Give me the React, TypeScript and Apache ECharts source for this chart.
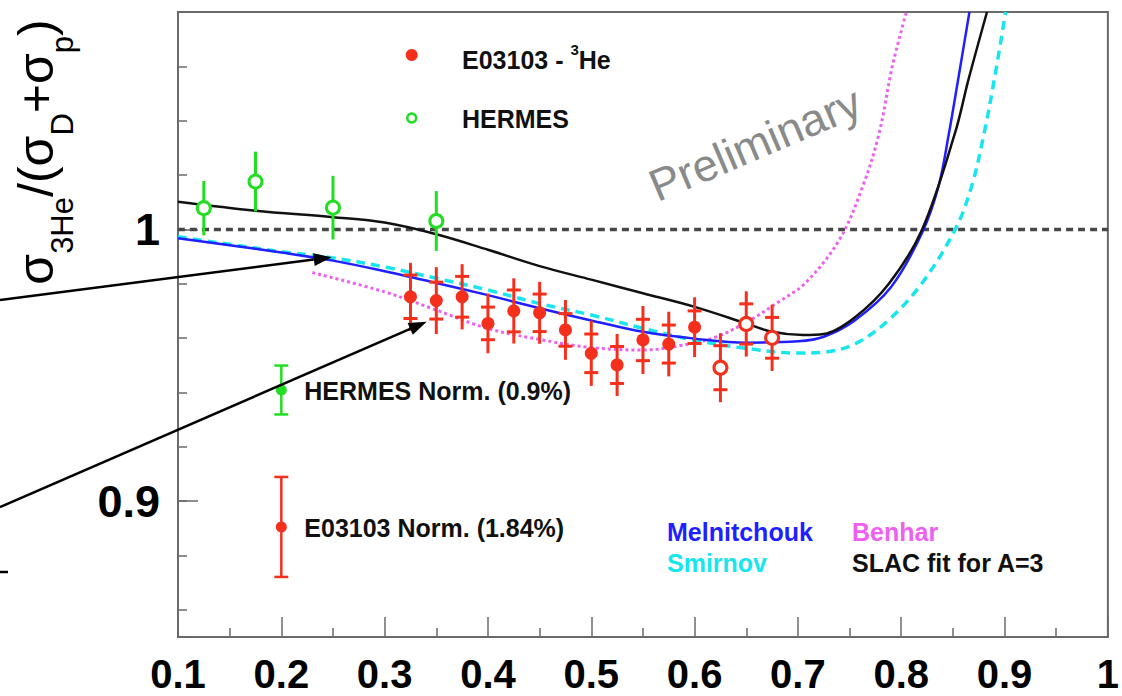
import React, { useEffect, useRef } from "react";
import * as echarts from "echarts";

// ---------- data ----------
// E03103 3He (filled red points): x, ratio, inner (stat) error, outer (total) error
const e03103X = [0.325, 0.35, 0.375, 0.4, 0.425, 0.45, 0.475, 0.5, 0.525, 0.55, 0.575, 0.6];
const e03103Y = [0.9752, 0.9738, 0.9752, 0.9654, 0.97, 0.9693, 0.963, 0.9544, 0.9501, 0.9593, 0.9578, 0.964];
const e03103Stat = [0.008, 0.0068, 0.0075, 0.006, 0.0077, 0.0069, 0.006, 0.0071, 0.0068, 0.0076, 0.007, 0.006];
const e03103Tot = [0.0125, 0.0123, 0.012, 0.011, 0.012, 0.0114, 0.011, 0.012, 0.0114, 0.0125, 0.0119, 0.011];

// E03103 open red points
const e03103OpenX = [0.625, 0.65, 0.675];
const e03103OpenY = [0.9491, 0.9652, 0.9601];
const e03103OpenStat = [0.0081, 0.0074, 0.0075];
const e03103OpenTot = [0.0127, 0.012, 0.0122];

// HERMES (open green points)
const hermesX = [0.125, 0.175, 0.25, 0.35];
const hermesY = [1.0078, 1.0176, 1.008, 1.0031];
const hermesErr = [0.01, 0.011, 0.0117, 0.011];

// normalisation bars
const normLabels = ["HERMES Norm. (0.9%)", "E03103 Norm. (1.84%)"];
const normX = [0.2, 0.2];
const normY = [0.9409, 0.8905];
const normErr = [0.009, 0.0184];

// model curves
const melnitchoukX = [0.1, 0.15, 0.2, 0.25, 0.3, 0.35, 0.4, 0.45, 0.5, 0.55, 0.6, 0.65, 0.7, 0.725, 0.755, 0.79, 0.82, 0.836, 0.846, 0.855, 0.866];
const melnitchoukY = [0.9967, 0.9942, 0.9915, 0.9885, 0.9846, 0.9803, 0.9758, 0.971, 0.9665, 0.9623, 0.9598, 0.9583, 0.9588, 0.9605, 0.9665, 0.9787, 0.9986, 1.0157, 1.035, 1.055, 1.08];

const smirnovX = [0.1, 0.15, 0.2, 0.25, 0.3, 0.35, 0.4, 0.45, 0.5, 0.55, 0.6, 0.65, 0.7, 0.725, 0.756, 0.788, 0.82, 0.852, 0.868, 0.88, 0.89, 0.901];
const smirnovY = [0.9973, 0.9945, 0.9918, 0.9895, 0.9862, 0.982, 0.9777, 0.9727, 0.9685, 0.9636, 0.9592, 0.9562, 0.9545, 0.9548, 0.958, 0.9667, 0.9802, 0.9998, 1.0157, 1.035, 1.055, 1.08];

const benharX = [0.23, 0.3, 0.345, 0.4, 0.45, 0.5, 0.55, 0.58, 0.62, 0.654, 0.68, 0.707, 0.74, 0.7626, 0.7786, 0.7913, 0.805];
const benharY = [0.9841, 0.977, 0.971, 0.9635, 0.9595, 0.9565, 0.9556, 0.9568, 0.9603, 0.9667, 0.973, 0.9802, 0.9961, 1.0157, 1.0354, 1.0599, 1.08];

const slacX = [0.1, 0.175, 0.25, 0.3, 0.35, 0.4, 0.45, 0.5, 0.55, 0.6, 0.65, 0.675, 0.705, 0.725, 0.755, 0.788, 0.82, 0.852, 0.865, 0.883];
const slacY = [1.0102, 1.0069, 1.0045, 1.0025, 0.9982, 0.9925, 0.9865, 0.9815, 0.9765, 0.9715, 0.9654, 0.9623, 0.9611, 0.9615, 0.9676, 0.98, 0.9998, 1.0354, 1.055, 1.08];

const unityX = [0.1, 1.0];
const unityY = [1, 1];

const yLabelValues = [0.9, 1];

// y-axis title pieces: [text, "m" main | "s" subscript]
const yTitlePieces: [string, string][] = [
  ["σ", "m"],
  ["3He", "s"],
  ["/(σ", "m"],
  ["D", "s"],
  ["+σ", "m"],
  ["p", "s"],
  [")", "m"],
];

// ---------- styles ----------
const FONT = "'Liberation Sans', Arial, Helvetica, sans-serif";
const RED = "#f4301c";
const GREEN = "#22dd22";
const BLUE = "#1f1fff";
const CYAN = "#18e6ee";
const MAGENTA = "#f060ee";
const AXIS = "#6a6a6a";

const pairs = (xs: number[], ys: number[]) => xs.map((x, i) => [x, ys[i]]);

function pointRenderer(color: string, filled: boolean, r: number, crossbars: boolean) {
  return (params: any, api: any) => {
    const x = api.value(0);
    const y = api.value(1);
    const s = api.value(2);
    const t = api.value(3);
    const c = api.coord([x, y]);
    const top = api.coord([x, y + t]);
    const bot = api.coord([x, y - t]);
    const children: any[] = [
      { type: "line", shape: { x1: c[0], y1: top[1], x2: c[0], y2: bot[1] }, style: { stroke: color, lineWidth: 3 } },
    ];
    if (crossbars) {
      const sTop = api.coord([x, y + s]);
      const sBot = api.coord([x, y - s]);
      children.push({ type: "line", shape: { x1: c[0] - 7, y1: sTop[1], x2: c[0] + 7, y2: sTop[1] }, style: { stroke: color, lineWidth: 3 } });
      children.push({ type: "line", shape: { x1: c[0] - 7, y1: sBot[1], x2: c[0] + 7, y2: sBot[1] }, style: { stroke: color, lineWidth: 3 } });
    }
    children.push({
      type: "circle",
      shape: { cx: c[0], cy: c[1], r },
      style: filled ? { fill: color } : { fill: "#fff", stroke: color, lineWidth: 3 },
    });
    return { type: "group", children };
  };
}

function normRenderer(params: any, api: any) {
  const colors = [GREEN, RED];
  const color = colors[params.dataIndex];
  const x = api.value(0);
  const y = api.value(1);
  const e = api.value(2);
  const c = api.coord([x, y]);
  const top = api.coord([x, y + e]);
  const bot = api.coord([x, y - e]);
  return {
    type: "group",
    children: [
      { type: "line", shape: { x1: c[0], y1: top[1], x2: c[0], y2: bot[1] }, style: { stroke: color, lineWidth: 2.5 } },
      { type: "line", shape: { x1: c[0] - 7, y1: top[1], x2: c[0] + 7, y2: top[1] }, style: { stroke: color, lineWidth: 2.5 } },
      { type: "line", shape: { x1: c[0] - 7, y1: bot[1], x2: c[0] + 7, y2: bot[1] }, style: { stroke: color, lineWidth: 2.5 } },
      { type: "circle", shape: { cx: c[0], cy: c[1], r: 5.5 }, style: { fill: color } },
      {
        type: "text",
        x: c[0] + 23,
        y: c[1] + 1,
        style: { text: normLabels[params.dataIndex], fill: "#111", font: `bold 25px ${FONT}`, align: "left", verticalAlign: "middle" },
      },
    ],
  };
}

function arrow(x1: number, y1: number, x2: number, y2: number) {
  const ang = Math.atan2(y2 - y1, x2 - x1);
  const L = 18;
  const W = 6.5;
  const bx = x2 - L * Math.cos(ang);
  const by = y2 - L * Math.sin(ang);
  const px = -Math.sin(ang);
  const py = Math.cos(ang);
  return [
    { type: "line", shape: { x1, y1, x2: bx, y2: by }, style: { stroke: "#000", lineWidth: 2.5 }, z: 20 },
    {
      type: "polygon",
      shape: { points: [[x2, y2], [bx + px * W, by + py * W], [bx - px * W, by - py * W]] },
      style: { fill: "#000" },
      z: 20,
    },
  ];
}

function lineSeries(name: string, xs: number[], ys: number[], color: string, width: number, type: any) {
  return {
    name,
    type: "line",
    data: pairs(xs, ys),
    showSymbol: false,
    symbol: "none",
    smooth: 0.35,
    clip: true,
    lineStyle: { color, width, type },
    z: 3,
  };
}

function buildYTitle() {
  const MAIN = 50;
  const SUB = 31;
  const SUB_DY = 26;
  const ctx = document.createElement("canvas").getContext("2d")!;
  const widths = yTitlePieces.map(([t, k]) => {
    ctx.font = `${k === "m" ? MAIN : SUB}px ${FONT}`;
    return ctx.measureText(t).width;
  });
  const total = widths.reduce((a, b) => a + b, 0);
  let cur = -total / 2;
  const children = yTitlePieces.map(([t, k], i) => {
    const el = {
      type: "text",
      x: cur,
      y: k === "m" ? 0 : SUB_DY,
      style: {
        text: t,
        font: `${k === "m" ? MAIN : SUB}px ${FONT}`,
        fill: "#000",
        align: "left",
        verticalAlign: "middle",
      },
    };
    cur += widths[i];
    return el;
  });
  return { type: "group", x: 36, y: 152, rotation: Math.PI / 2, children, z: 10 };
}

export default function App() {
  const ref = useRef<HTMLDivElement>(null);
  useEffect(() => {
    document.body.style.margin = "0";
    const chart = echarts.init(ref.current!, undefined, { renderer: "svg" });
    const option: any = {
      animation: false,
      backgroundColor: "#fff",
      textStyle: { fontFamily: FONT },
      grid: { left: 178, right: 5, top: 12, bottom: 59, show: true, borderColor: AXIS, borderWidth: 2, backgroundColor: "transparent" },
      xAxis: {
        type: "value",
        min: 0.1,
        max: 1.0,
        interval: 0.1,
        axisLine: { lineStyle: { color: AXIS, width: 2 } },
        axisTick: { inside: true, length: 20, lineStyle: { color: AXIS, width: 1.5 } },
        minorTick: { show: true, splitNumber: 2, length: 9, lineStyle: { color: AXIS, width: 1.5 } },
        splitLine: { show: false },
        minorSplitLine: { show: false },
        axisLabel: {
          color: "#000",
          fontSize: 40,
          lineHeight: 30,
          fontWeight: "bold",
          fontFamily: FONT,
          margin: 22,
          formatter: (v: number) => String(+v.toFixed(2)),
        },
      },
      yAxis: [
        {
          type: "value",
          min: 0.85,
          max: 1.08,
          minInterval: 0.1,
          maxInterval: 0.1,
          position: "left",
          axisLine: { lineStyle: { color: AXIS, width: 2 } },
          axisTick: { inside: true, length: 20, lineStyle: { color: AXIS, width: 1.5 } },
          splitLine: { show: false },
          axisLabel: {
            color: "#000",
            fontSize: 45,
            fontWeight: "bold",
            fontFamily: FONT,
            margin: 18,
            formatter: (v: number) => {
              const hit = yLabelValues.find((t) => Math.abs(t - v) < 1e-6);
              return hit === undefined ? "" : String(hit);
            },
          },
        },
        {
          type: "value",
          min: 0.85,
          max: 1.08,
          minInterval: 0.02,
          maxInterval: 0.02,
          position: "left",
          offset: 0,
          axisLine: { show: false },
          axisTick: { inside: true, length: 9, lineStyle: { color: AXIS, width: 1.5 } },
          axisLabel: { show: false },
          splitLine: { show: false },
        },
      ],
      series: [
        lineSeries("unity", unityX, unityY, "#474747", 3.5, [7, 5]),
        lineSeries("Benhar", benharX, benharY, MAGENTA, 3, [3, 3]),
        lineSeries("Smirnov", smirnovX, smirnovY, CYAN, 3.5, [9, 6]),
        lineSeries("Melnitchouk", melnitchoukX, melnitchoukY, BLUE, 2.5, "solid"),
        lineSeries("SLAC fit for A=3", slacX, slacY, "#111", 2.5, "solid"),
        {
          name: "HERMES",
          type: "custom",
          renderItem: pointRenderer(GREEN, false, 6.5, false),
          data: hermesX.map((x, i) => [x, hermesY[i], 0, hermesErr[i]]),
          z: 5,
        },
        {
          name: "E03103 - 3He",
          type: "custom",
          renderItem: pointRenderer(RED, true, 6.5, true),
          data: e03103X.map((x, i) => [x, e03103Y[i], e03103Stat[i], e03103Tot[i]]),
          z: 5,
        },
        {
          name: "E03103 open",
          type: "custom",
          renderItem: pointRenderer(RED, false, 6.5, true),
          data: e03103OpenX.map((x, i) => [x, e03103OpenY[i], e03103OpenStat[i], e03103OpenTot[i]]),
          z: 5,
        },
        {
          name: "norm",
          type: "custom",
          renderItem: normRenderer,
          data: normX.map((x, i) => [x, normY[i], normErr[i]]),
          z: 5,
        },
      ],
      graphic: [
        buildYTitle(),
        // legend
        { type: "circle", shape: { cx: 411.7, cy: 55, r: 6 }, style: { fill: RED }, z: 10 },
        {
          type: "text",
          x: 462,
          y: 57,
          style: {
            text: "{a|E03103 - }{u|3}{a|He}",
            align: "left",
            verticalAlign: "middle",
            rich: {
              a: { fontSize: 25, fontWeight: "bold", fontFamily: FONT, lineHeight: 30, verticalAlign: "bottom", fill: "#111" },
              u: { fontSize: 15, fontWeight: "bold", fontFamily: FONT, lineHeight: 14, verticalAlign: "top", fill: "#111" },
            },
          },
          z: 10,
        },
        { type: "circle", shape: { cx: 411.7, cy: 118, r: 4.5 }, style: { fill: "#fff", stroke: GREEN, lineWidth: 2.5 }, z: 10 },
        {
          type: "text",
          x: 462,
          y: 119,
          style: { text: "HERMES", fill: "#111", font: `bold 25px ${FONT}`, align: "left", verticalAlign: "middle" },
          z: 10,
        },
        // Preliminary watermark
        {
          type: "text",
          x: 755,
          y: 144,
          rotation: (23 * Math.PI) / 180,
          style: { text: "Preliminary", fill: "#8a8a8a", font: `45px ${FONT}`, align: "center", verticalAlign: "middle" },
          z: 1,
        },
        // model labels
        { type: "text", x: 667, y: 532, style: { text: "Melnitchouk", fill: BLUE, font: `bold 25px ${FONT}`, align: "left", verticalAlign: "middle" }, z: 10 },
        { type: "text", x: 667, y: 563, style: { text: "Smirnov", fill: CYAN, font: `bold 25px ${FONT}`, align: "left", verticalAlign: "middle" }, z: 10 },
        { type: "text", x: 852, y: 532, style: { text: "Benhar", fill: MAGENTA, font: `bold 25px ${FONT}`, align: "left", verticalAlign: "middle" }, z: 10 },
        { type: "text", x: 852, y: 563, style: { text: "SLAC fit for A=3", fill: "#111", font: `bold 25px ${FONT}`, align: "left", verticalAlign: "middle" }, z: 10 },
        // arrows from outside the frame
        ...arrow(0, 300, 331.7, 257.3),
        ...arrow(0, 507, 426.7, 321.7),
        { type: "line", shape: { x1: 0, y1: 572, x2: 8, y2: 572 }, style: { stroke: "#000", lineWidth: 2.5 }, z: 20 },
      ],
    };
    chart.setOption(option);
    return () => chart.dispose();
  }, []);
  return <div ref={ref} style={{ width: 1122, height: 696, position: "absolute", left: 0, top: 0, background: "#fff" }} />;
}
